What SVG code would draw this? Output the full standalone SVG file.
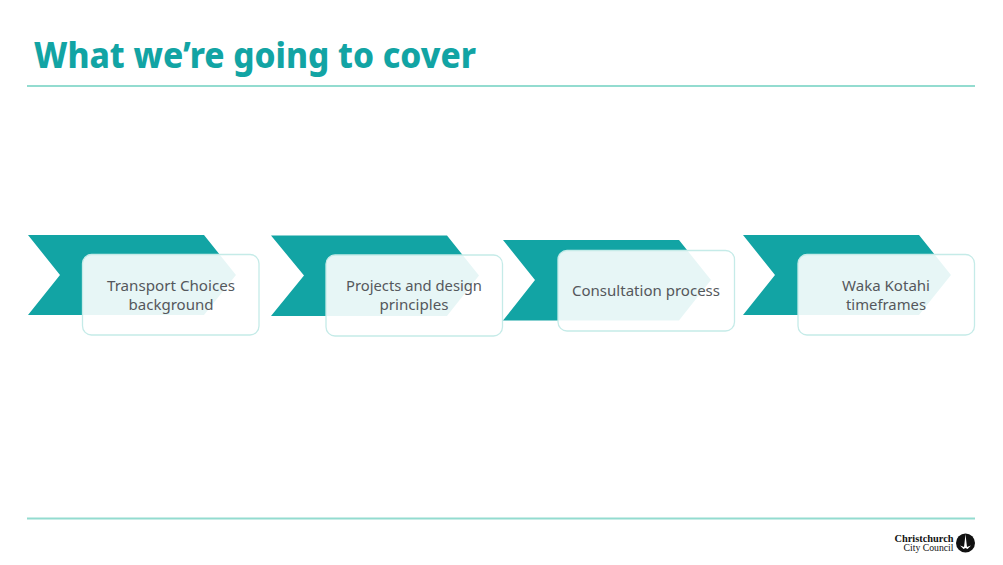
<svg xmlns="http://www.w3.org/2000/svg" width="1003" height="565" viewBox="0 0 1003 565">
<style>
.chev{fill:#12a4a4}
.card{fill:#fff;fill-opacity:.9;stroke:#c5ebe8;stroke-width:1.3}
.lbl{font-family:"Noto Sans","Open Sans",sans-serif;font-size:14.500px;fill:#55585c;text-anchor:middle}
.rule{stroke:#93dcd0;stroke-width:1.8;fill:none}
.ttl{font-family:"Noto Sans","Open Sans",sans-serif;font-size:35px;font-weight:800;fill:#12a4a4}
.logo{font-family:"Liberation Serif",serif;fill:#111;text-anchor:end}
</style>
<rect width="1003" height="565" fill="#fff"/>
<g id="title"><text class="ttl" x="34" y="68" textLength="442" lengthAdjust="spacingAndGlyphs">What we’re going to cover</text></g>
<g id="rules">
<line class="rule" x1="27" y1="86" x2="975" y2="86"/>
<line class="rule" x1="27" y1="518.500" x2="975" y2="518.500"/>
</g>
<g id="step-1">
<polygon class="chev" points="28,235 204,235 236,275 204,315 28,315 60,275"/>
<rect class="card" x="82.500" y="254.500" width="176.500" height="80.500" rx="9"/>
<text class="lbl" x="171" y="291" textLength="128" lengthAdjust="spacingAndGlyphs">Transport Choices</text>
<text class="lbl" x="171" y="310" textLength="85" lengthAdjust="spacingAndGlyphs">background</text>
</g>
<g id="step-2">
<polygon class="chev" points="271,235.500 447,235.500 479,275.500 447,316 271,316 304,275.500"/>
<rect class="card" x="326" y="255" width="176.500" height="81" rx="9"/>
<text class="lbl" x="414" y="291" textLength="136" lengthAdjust="spacingAndGlyphs">Projects and design</text>
<text class="lbl" x="414" y="310" textLength="69" lengthAdjust="spacingAndGlyphs">principles</text>
</g>
<g id="step-3">
<polygon class="chev" points="503,240 679,240 711,280 679,320.500 503,320.500 535,280"/>
<rect class="card" x="558" y="250.500" width="176.500" height="80.500" rx="9"/>
<text class="lbl" x="646" y="296" textLength="148" lengthAdjust="spacingAndGlyphs">Consultation process</text>
</g>
<g id="step-4">
<polygon class="chev" points="743,235 919,235 951,275 919,315 743,315 775,275"/>
<rect class="card" x="798" y="254.500" width="176.500" height="80.500" rx="9"/>
<text class="lbl" x="886" y="291" textLength="88" lengthAdjust="spacingAndGlyphs">Waka Kotahi</text>
<text class="lbl" x="886" y="310" textLength="80" lengthAdjust="spacingAndGlyphs">timeframes</text>
</g>
<g id="logo">
<text class="logo" x="953.500" y="541.500" font-size="10" font-weight="700" textLength="59" lengthAdjust="spacingAndGlyphs">Christchurch</text>
<text class="logo" x="953.500" y="551" font-size="10" textLength="50" lengthAdjust="spacingAndGlyphs">City Council</text>
<circle cx="965.500" cy="543" r="9.500" fill="#111"/>
<path d="M965.500 534 L966.500 543 L967 547 L971 545.500 L967.500 549 L965.500 548 L963.500 549 L960 545.500 L964 547 L964.500 543Z" fill="#fff"/>
</g>
</svg>
